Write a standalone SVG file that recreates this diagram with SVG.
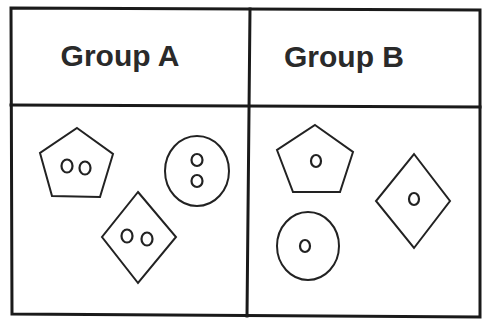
<svg xmlns="http://www.w3.org/2000/svg" width="482" height="324" viewBox="0 0 482 324">
<style>
.frame{fill:none;stroke:#1a1a1a;stroke-width:3;stroke-linecap:square}
.shape{fill:none;stroke:#222;stroke-width:2}
.dot{fill:none;stroke:#222;stroke-width:2.2}
.label{font-family:"Liberation Sans",Arial,sans-serif;font-weight:bold;font-size:30px;fill:#2a2a2a}
</style>
<rect x="0" y="0" width="482" height="324" fill="#ffffff"/>
<g id="frame">
<path class="frame" d="M11,8 L480,10 L480,317 L12,314 Z"/>
<path class="frame" d="M11,105 L480,107"/>
<path class="frame" d="M250,9 L247,316"/>
</g>
<g id="header-a"><text class="label" x="120" y="66" text-anchor="middle">Group A</text></g>
<g id="header-b"><text class="label" x="344" y="67" text-anchor="middle">Group B</text></g>
<g id="a-pentagon">
<polygon class="shape" points="77,128 113,154 100,197 52,196 40,153"/>
<ellipse class="dot" cx="67" cy="166" rx="5.5" ry="6.5"/>
<ellipse class="dot" cx="85" cy="168" rx="5.5" ry="6.5"/>
</g>
<g id="a-circle">
<ellipse class="shape" cx="197" cy="171" rx="32" ry="35"/>
<ellipse class="dot" cx="197" cy="160" rx="5.5" ry="6"/>
<ellipse class="dot" cx="197" cy="181" rx="5.5" ry="6"/>
</g>
<g id="a-diamond">
<polygon class="shape" points="138,192 176,237 138,283 102,237"/>
<ellipse class="dot" cx="127" cy="236" rx="5.5" ry="6.5"/>
<ellipse class="dot" cx="147" cy="239" rx="5.5" ry="6.5"/>
</g>
<g id="b-pentagon">
<polygon class="shape" points="315,125 353,152 340,192 293,192 277,150"/>
<ellipse class="dot" cx="316" cy="161" rx="5" ry="6"/>
</g>
<g id="b-circle">
<ellipse class="shape" cx="308" cy="246" rx="31" ry="34"/>
<ellipse class="dot" cx="305" cy="246" rx="5" ry="6"/>
</g>
<g id="b-diamond">
<polygon class="shape" points="414,154 450,201 414,248 376,201"/>
<ellipse class="dot" cx="414" cy="199" rx="5" ry="6"/>
</g>
</svg>
